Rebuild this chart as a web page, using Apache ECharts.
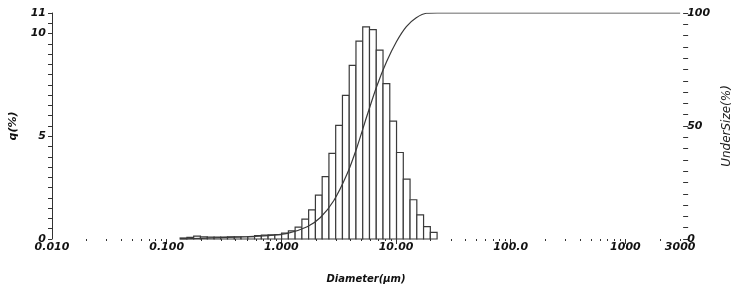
<!DOCTYPE html>
<html>
<head>
<meta charset="utf-8">
<script src="https://cdn.jsdelivr.net/npm/echarts@6/dist/echarts.min.js"></script>
<style>
  html, body { margin: 0; padding: 0; background: #fff; }
  #chart { width: 741px; height: 289px; }
</style>
</head>
<body>
<div id="chart"></div>
<script>
// bin edges of the histogram (um), one more than the q values
var binEdges = [0.131, 0.15, 0.172, 0.197, 0.226, 0.259, 0.296, 0.339, 0.389, 0.445,
  0.51, 0.584, 0.669, 0.766, 0.877, 1.005, 1.151, 1.318, 1.51, 1.729, 1.981, 2.269,
  2.599, 2.976, 3.409, 3.905, 4.472, 5.122, 5.867, 6.72, 7.697, 8.816, 10.097,
  11.565, 13.246, 15.172, 17.377, 19.904, 22.797]
// q(%) per bin
var qValues = [0.05, 0.08, 0.14, 0.10, 0.09, 0.09, 0.09, 0.10, 0.10, 0.11, 0.12, 0.17,
  0.19, 0.20, 0.21, 0.29, 0.40, 0.58, 0.97, 1.42, 2.14, 3.04, 4.17, 5.53, 6.99, 8.45,
  9.63, 10.32, 10.19, 9.19, 7.56, 5.74, 4.21, 2.91, 1.91, 1.17, 0.60, 0.32]
// undersize curve
var underDiam = [0.131, 0.2, 0.3, 0.5, 0.757, 1.13, 1.68, 2.19, 2.86, 3.73, 4.55, 5.56,
  6.78, 8.28, 10.1, 12.3, 15.0, 18.4, 22.8, 3000]
var underPct = [0, 0.3, 0.6, 1.0, 1.5, 2.5, 5.4, 9.5, 16.9, 28.6, 40.4, 54.3, 67.5,
  78.5, 87.4, 94.0, 97.9, 99.9, 100, 100]
// axis ticks
var xTickValues = [0.01, 0.1, 1, 10, 100, 1000, 3000]
var xTickLabels = ['0.010', '0.100', '1.000', '10.00', '100.0', '1000', '3000']
var qTickValues = [0, 5, 10, 11]
var underTickValues = [0, 50, 100]

var minorTicks = []
;[0.01, 0.1, 1, 10, 100, 1000].forEach(function (dec) {
  for (var k = 2; k <= 9; k++) {
    if (dec * k <= 3000) minorTicks.push(dec * k)
  }
})

var histData = qValues.map(function (q, i) {
  return [binEdges[i], binEdges[i + 1], q]
})
var curveData = underDiam.map(function (d, i) {
  return [d, underPct[i]]
})

var font = {
  fontFamily: 'DejaVu Sans',
  fontStyle: 'italic',
  fontWeight: 'bold',
  fontSize: 11,
  color: '#111'
}

var chart = echarts.init(document.getElementById('chart'))
chart.setOption({
  animation: false,
  backgroundColor: '#fff',
  grid: { left: 52, right: 59, top: 13, bottom: 49 },
  xAxis: [
    {
      type: 'log',
      logBase: 10,
      min: 0.01,
      max: 3000,
      position: 'bottom',
      axisLine: { show: false, onZero: false },
      splitLine: { show: false },
      axisTick: { show: true, length: 5, customValues: [0.1, 1, 10, 100, 1000],
        lineStyle: { color: '#333', width: 1 } },
      axisLabel: Object.assign({}, font, {
        margin: 3,
        customValues: xTickValues,
        formatter: function (v) {
          for (var i = 0; i < xTickValues.length; i++) {
            if (Math.abs(Math.log10(v) - Math.log10(xTickValues[i])) < 1e-6) return xTickLabels[i]
          }
          return ''
        }
      }),
      name: 'Diameter(μm)',
      nameLocation: 'middle',
      nameGap: 35,
      nameTextStyle: Object.assign({}, font, { fontSize: 10 })
    },
    {
      type: 'log',
      logBase: 10,
      min: 0.01,
      max: 3000,
      position: 'bottom',
      axisLine: { show: false, onZero: false },
      splitLine: { show: false },
      axisTick: { show: true, length: 2, customValues: minorTicks,
        lineStyle: { color: '#333', width: 1 } },
      axisLabel: { show: false }
    }
  ],
  yAxis: [
    {
      type: 'value',
      min: 0,
      max: 11,
      interval: 0.5,
      position: 'left',
      axisLine: { show: true, lineStyle: { color: '#333', width: 1 } },
      axisTick: { show: true, length: 4, lineStyle: { color: '#333' } },
      splitLine: { show: false },
      axisLabel: Object.assign({}, font, { margin: 6, customValues: qTickValues }),
      name: 'q(%)',
      nameLocation: 'middle',
      nameRotate: 90,
      nameGap: 33,
      nameTextStyle: Object.assign({}, font, { fontSize: 11 })
    },
    {
      type: 'value',
      min: 0,
      max: 100,
      interval: 5,
      position: 'right',
      offset: 3,
      axisLine: { show: false },
      axisTick: { show: true, length: 5, lineStyle: { color: '#333' } },
      splitLine: { show: false },
      axisLabel: Object.assign({}, font, { margin: 4, customValues: underTickValues }),
      name: 'UnderSize(%)',
      nameLocation: 'middle',
      nameRotate: 90,
      nameGap: 36,
      nameTextStyle: Object.assign({}, font, { fontSize: 12, fontWeight: 'normal', color: '#222' })
    }
  ],
  series: [
    {
      name: 'q',
      type: 'custom',
      xAxisIndex: 0,
      yAxisIndex: 0,
      encode: { x: [0, 1], y: 2 },
      data: histData,
      renderItem: function (params, api) {
        var topLeft = api.coord([api.value(0), api.value(2)])
        var bottomRight = api.coord([api.value(1), 0])
        return {
          type: 'rect',
          shape: {
            x: topLeft[0],
            y: topLeft[1],
            width: bottomRight[0] - topLeft[0],
            height: bottomRight[1] - topLeft[1]
          },
          style: { fill: '#fff', stroke: '#3a3a3a', lineWidth: 1.2 }
        }
      }
    },
    {
      name: 'UnderSize',
      type: 'line',
      xAxisIndex: 0,
      yAxisIndex: 1,
      data: curveData,
      smooth: 0.3,
      showSymbol: false,
      lineStyle: { color: '#3a3a3a', width: 1.2 },
      z: 5
    }
  ]
})
</script>
</body>
</html>
